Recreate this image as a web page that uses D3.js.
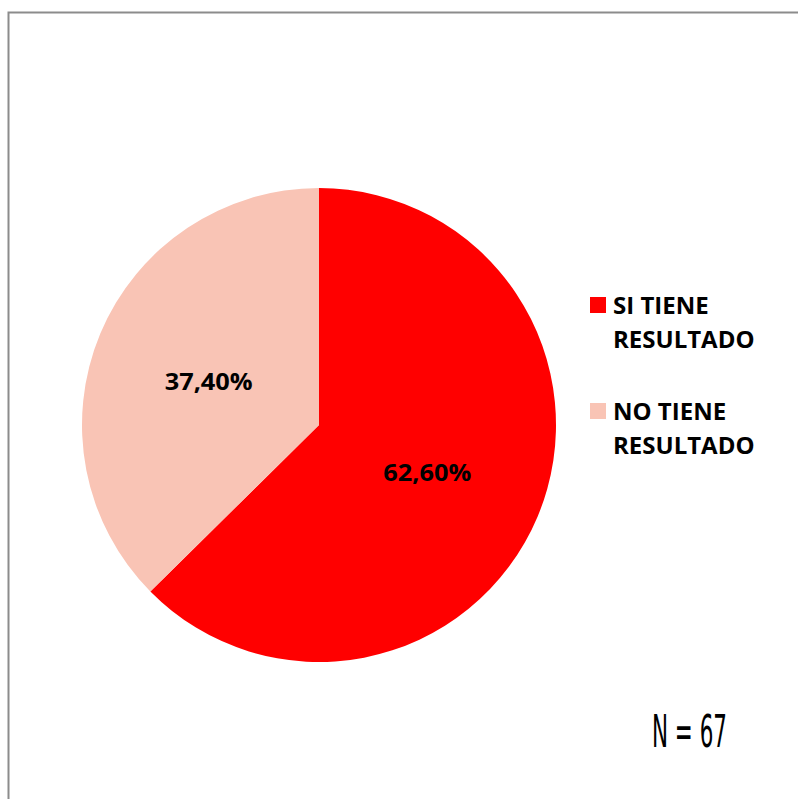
<!DOCTYPE html>
<html>
<head>
<meta charset="utf-8">
<script src="https://cdn.jsdelivr.net/npm/d3@7"></script>
<style>
  body { margin: 0; background: #fff; }
</style>
</head>
<body>
<div id="chart"></div>
<script>
// data
var categories = ["SI TIENE RESULTADO", "NO TIENE RESULTADO"];
var values = [62.6, 37.4];
var valueLabels = ["62,60%", "37,40%"];
var colors = ["#FF0000", "#F9C4B5"];
var legendLines = [["SI TIENE", "RESULTADO"], ["NO TIENE", "RESULTADO"]];
var noteText = "N = 67";

var width = 798, height = 799;

var svg = d3.select("#chart")
  .append("svg")
    .attr("width", width)
    .attr("height", height);

// chart frame (runs off the right and bottom of the page)
svg.append("rect")
  .attr("x", 8.5)
  .attr("y", 12.5)
  .attr("width", 820)
  .attr("height", 820)
  .attr("fill", "none")
  .attr("stroke", "#8c8c8c")
  .attr("stroke-width", 2);

var cx = 319, cy = 425, radius = 237;

var pie = d3.pie().sort(null).value(function(d) { return d; });
var arc = d3.arc().innerRadius(0).outerRadius(radius);
var arcs = pie(values);

var g = svg.append("g")
  .attr("transform", "translate(" + cx + "," + cy + ")");

g.selectAll("path")
  .data(arcs)
  .enter().append("path")
    .attr("d", arc)
    .attr("fill", function(d, i) { return colors[i]; });

// value labels
var labelArc = d3.arc().innerRadius(radius * 0.5).outerRadius(radius * 0.5);
g.selectAll("text.val")
  .data(arcs)
  .enter().append("text")
    .attr("class", "val")
    .attr("transform", function(d) {
      var c = labelArc.centroid(d);
      return "translate(" + (c[0] - 1) + "," + (c[1] + 2) + ")";
    })
    .attr("text-anchor", "middle")
    .attr("dy", "0.35em")
    .attr("textLength", 88)
    .attr("lengthAdjust", "spacingAndGlyphs")
    .style("font-family", "'Open Sans', sans-serif")
    .style("font-weight", "bold")
    .style("font-size", "24px")
    .style("fill", "#000")
    .text(function(d, i) { return valueLabels[i]; });

// legend
var legend = svg.append("g").attr("transform", "translate(590,297)");
var item = legend.selectAll("g")
  .data(categories)
  .enter().append("g")
    .attr("transform", function(d, i) { return "translate(0," + (i * 106) + ")"; });

item.append("rect")
  .attr("width", 16)
  .attr("height", 16)
  .attr("fill", function(d, i) { return colors[i]; });

item.append("text")
  .attr("x", 23)
  .attr("y", 17)
  .style("font-family", "'Open Sans', sans-serif")
  .style("font-weight", "bold")
  .style("font-size", "24px")
  .style("fill", "#000")
  .selectAll("tspan")
  .data(function(d, i) { return legendLines[i]; })
  .enter().append("tspan")
    .attr("x", 23)
    .attr("dy", function(d, j) { return j === 0 ? 0 : 34; })
    .text(function(d) { return d; });

// sample size note
svg.append("text")
  .attr("x", 652)
  .attr("y", 747)
  .attr("textLength", 75)
  .attr("lengthAdjust", "spacingAndGlyphs")
  .style("font-family", "'Liberation Sans Narrow', 'DejaVu Sans Condensed', sans-serif")
  .style("font-size", "44px")
  .style("fill", "#000")
  .text(noteText);
</script>
</body>
</html>
